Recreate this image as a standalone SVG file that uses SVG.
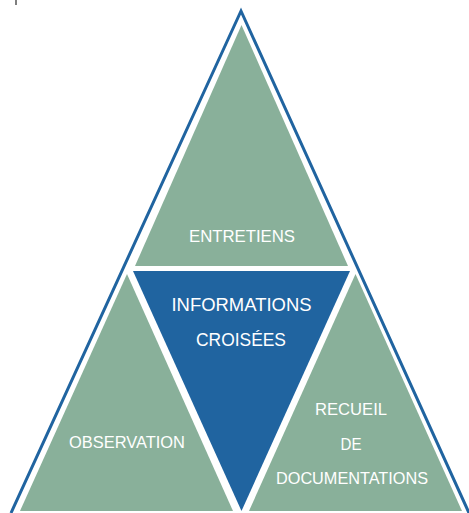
<svg xmlns="http://www.w3.org/2000/svg" width="469" height="513" viewBox="0 0 469 513">
<style>
.g{fill:#89B09A}
.b{fill:#2064A0}
.t{fill:#ffffff;font-family:"Liberation Sans","DejaVu Sans",Arial,sans-serif;font-size:16.5px;text-anchor:middle}
</style>
<rect width="469" height="513" fill="#ffffff"/>
<line x1="16" y1="0" x2="16" y2="5" stroke="#555" stroke-width="1.5"/>
<g id="outline">
<polyline points="11,513 241,11 469,513" fill="none" stroke="#2064A0" stroke-width="3" stroke-linejoin="miter"/>
</g>
<g id="entretiens">
<polygon class="g" points="241.5,25 348,266 135,266"/>
<text class="t" x="242" y="242" textLength="106" lengthAdjust="spacingAndGlyphs">ENTRETIENS</text>
</g>
<g id="informations">
<polygon class="b" points="133,271 350,271 241.5,511"/>
<text class="t" x="241.5" y="311" style="font-size:17.5px" textLength="140" lengthAdjust="spacingAndGlyphs">INFORMATIONS</text>
<text class="t" x="241" y="345.5" style="font-size:17.5px" textLength="90" lengthAdjust="spacingAndGlyphs">CROISÉES</text>
</g>
<g id="observation">
<polygon class="g" points="127,274 233,511 20,511"/>
<text class="t" x="127" y="448" textLength="116" lengthAdjust="spacingAndGlyphs">OBSERVATION</text>
</g>
<g id="recueil">
<polygon class="g" points="355.5,274 462,511 249,511"/>
<text class="t" x="351" y="415" textLength="72" lengthAdjust="spacingAndGlyphs">RECUEIL</text>
<text class="t" x="351" y="449.5" textLength="21" lengthAdjust="spacingAndGlyphs">DE</text>
<text class="t" x="352" y="483.5" textLength="152" lengthAdjust="spacingAndGlyphs">DOCUMENTATIONS</text>
</g>
<g id="connectors"/>
</svg>
